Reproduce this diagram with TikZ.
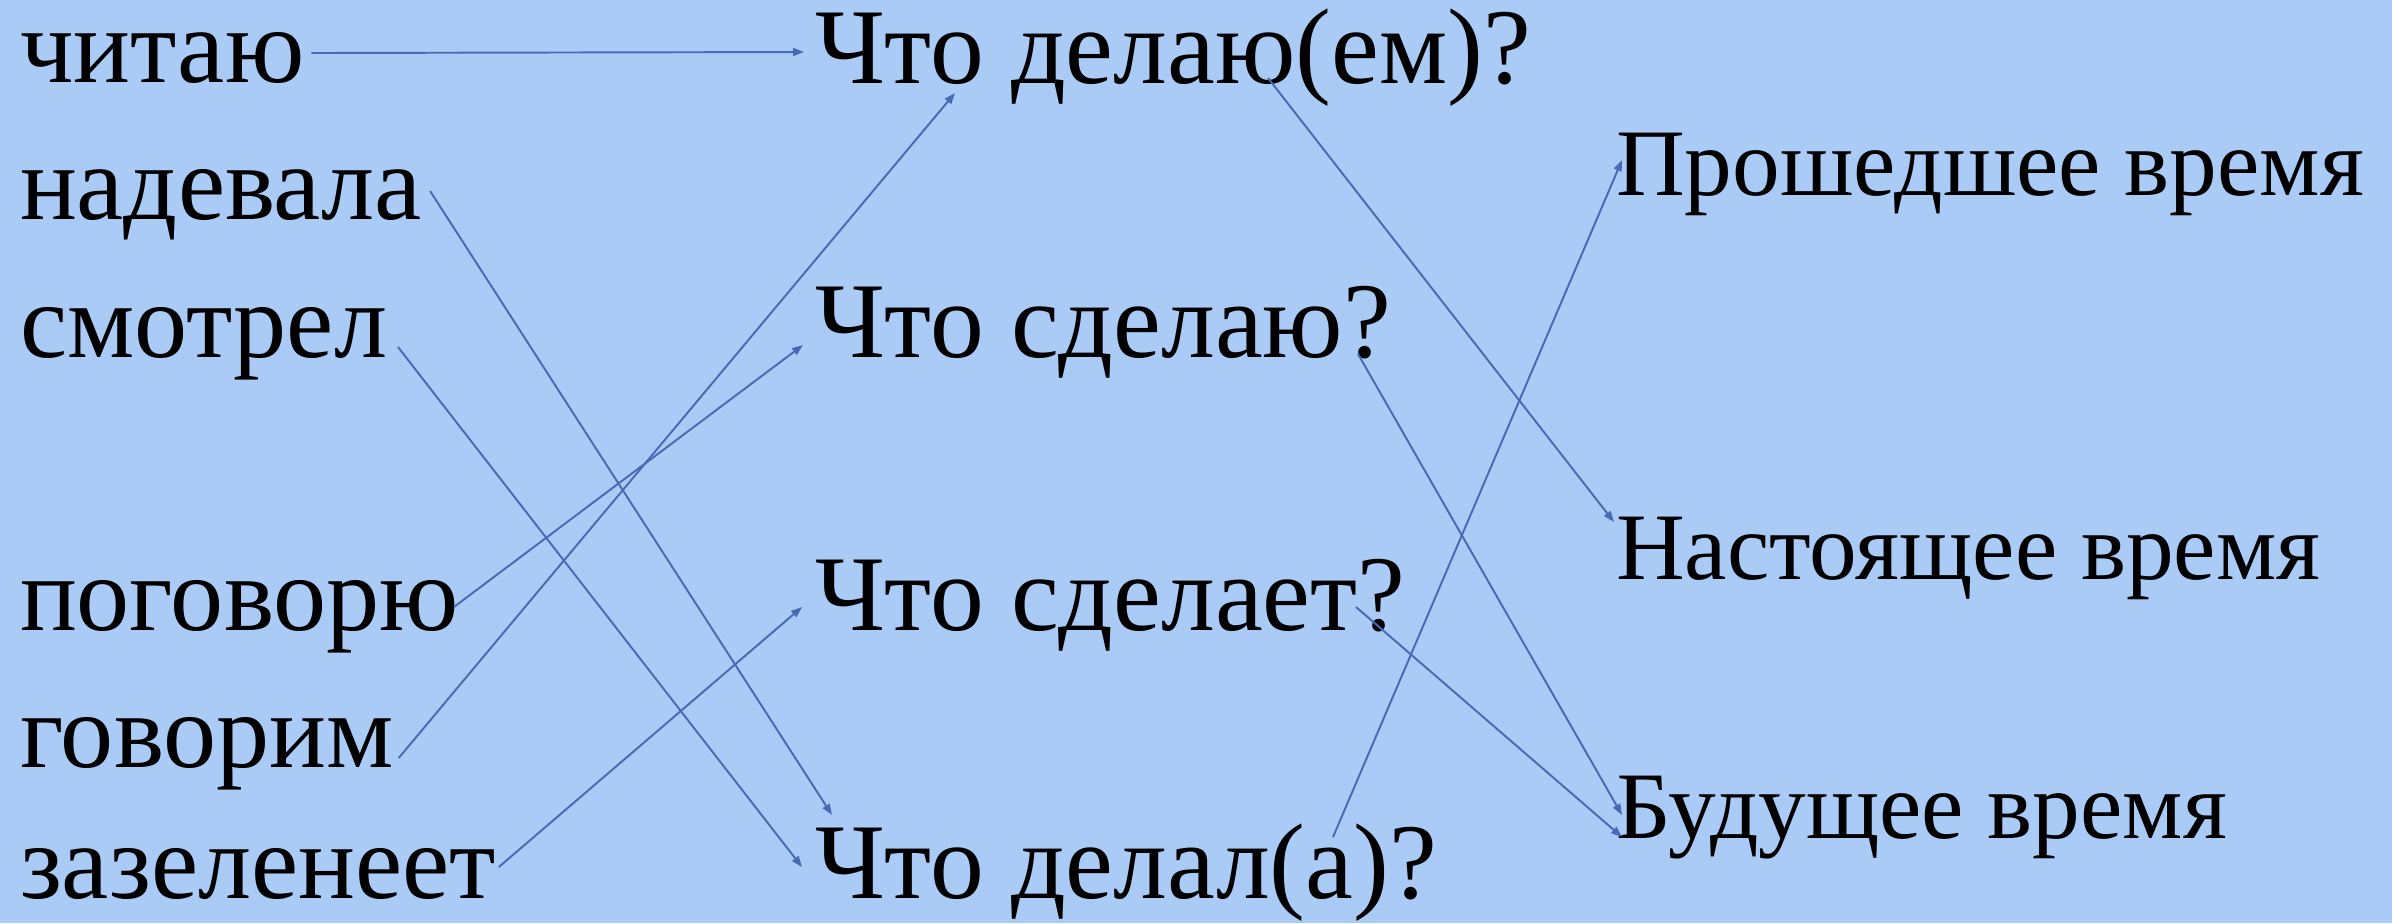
\documentclass[tikz,border=0pt]{standalone}
\usepackage{fontspec}
\setmainfont{Liberation Serif}
\newfontfamily\tnr{Liberation Serif}
\usetikzlibrary{arrows.meta}
\definecolor{bgblue}{RGB}{171,203,247}
\definecolor{linkblue}{RGB}{72,106,180}
\tikzset{
  word/.style={anchor=base west, inner sep=0pt, outer sep=0pt, font=\tnr\fontsize{30.2pt}{36pt}\selectfont},
  ques/.style={anchor=base west, inner sep=0pt, outer sep=0pt, font=\tnr\fontsize{30.6pt}{36pt}\selectfont},
  tense/.style={anchor=base west, inner sep=0pt, outer sep=0pt, font=\tnr\fontsize{27.1pt}{32pt}\selectfont},
  link/.style={draw=linkblue, line width=0.55pt, -{Triangle[length=0.11cm,width=0.08cm]}}
}
\begin{document}
\begin{tikzpicture}[x=0.01cm,y=-0.01cm]
\fill[bgblue] (0,0) rectangle (2392,923);
\useasboundingbox (0,0) rectangle (2392,923);
% left column
\node[word] (w1) at (20,82) {читаю};
\node[word] (w2) at (20,219) {надевала};
\node[word] (w3) at (20,357) {смотрел};
\node[word] (w4) at (20,630) {поговорю};
\node[word] (w5) at (20,767) {говорим};
\node[word] (w6) at (20,898) {зазеленеет};
% middle column
\node[ques] (q1) at (815,83) {Что делаю(ем)?};
\node[ques] (q2) at (815,357) {Что сделаю?};
\node[ques] (q3) at (815,630) {Что сделает?};
\node[ques] (q4) at (815,898) {Что делал(а)?};
% right column
\node[tense] (t1) at (1616,195) {Прошедшее время};
\node[tense] (t2) at (1616,579) {Настоящее время};
\node[tense] (t3) at (1616,838) {Будущее время};
% connectors
\draw[link] ([shift={(7,-29)}]w1.base east) -- ([shift={(-11,-31)}]q1.base west);
\draw[link] ([shift={(8,-28)}]w2.base east) -- ([shift={(17,-83)}]q4.base west);
\draw[link] ([shift={(11,-10)}]w3.base east) -- ([shift={(-13,-31)}]q4.base west);
\draw[link] ([shift={(-5,-23)}]w4.base east) -- ([shift={(-12,-12)}]q2.base west);
\draw[link] ([shift={(5,-9)}]w5.base east) -- ([shift={(140,10)}]q1.base west);
\draw[link] ([shift={(3,-31)}]w6.base east) -- ([shift={(-13,-23)}]q3.base west);
\draw[link] ([shift={(453,-5)}]q1.base west) -- ([shift={(-2,-57)}]t2.base west);
\draw[link] ([shift={(543,-3)}]q2.base west) -- ([shift={(6,-23)}]t3.base west);
\draw[link] ([shift={(541,-23)}]q3.base west) -- ([shift={(6,-1)}]t3.base west);
\draw[link] ([shift={(518,-61)}]q4.base west) -- ([shift={(6,-35)}]t1.base west);
\end{tikzpicture}
\end{document}
